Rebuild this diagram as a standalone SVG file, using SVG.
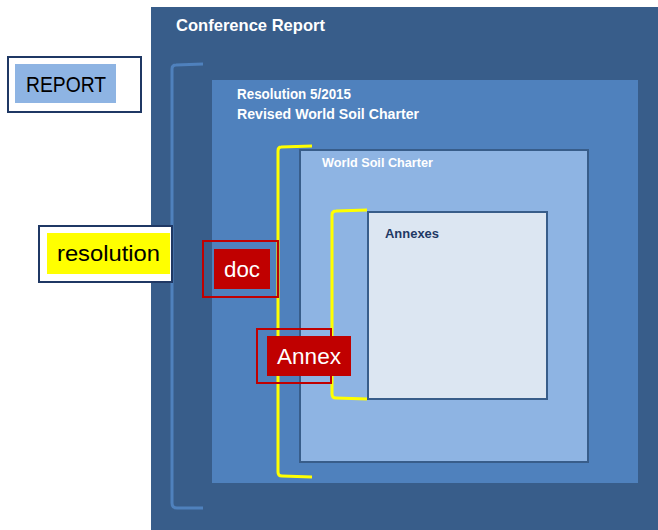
<svg xmlns="http://www.w3.org/2000/svg" width="658" height="530" viewBox="0 0 658 530">
<style>
.t{font-family:"Liberation Sans",Arial,sans-serif;font-weight:bold;fill:#ffffff}
.lbl{font-family:"Liberation Sans",Arial,sans-serif;font-size:22px}
.yb{fill:none;stroke:#FFFF00;stroke-width:3;stroke-linejoin:round}
.navy{fill:#ffffff;stroke:#1F3864;stroke-width:2}
.redo{fill:none;stroke:#C00000;stroke-width:2}
.redf{fill:#C00000}
</style>
<rect width="658" height="530" fill="#ffffff"/>
<g id="conference-report">
<rect x="151" y="7" width="507" height="523" fill="#385D8A"/>
<text class="t" x="176" y="31" font-size="17" textLength="149" lengthAdjust="spacingAndGlyphs">Conference Report</text>
</g>
<g id="resolution-box">
<rect x="212" y="80" width="426" height="403" fill="#4F81BD"/>
<text class="t" x="237" y="99" font-size="14.5" textLength="114" lengthAdjust="spacingAndGlyphs">Resolution 5/2015</text>
<text class="t" x="237" y="119" font-size="14.5" textLength="182" lengthAdjust="spacingAndGlyphs">Revised World Soil Charter</text>
</g>
<g id="world-soil-charter">
<rect x="300" y="150" width="288" height="312" fill="#8EB4E3" stroke="#385D8A" stroke-width="2"/>
<text class="t" x="322" y="167" font-size="12.5" textLength="111" lengthAdjust="spacingAndGlyphs">World Soil Charter</text>
</g>
<g id="annexes">
<rect x="368" y="212" width="179" height="187" fill="#DCE6F2" stroke="#385D8A" stroke-width="2"/>
<text class="t" x="385" y="238" font-size="12.5" style="fill:#1F3864" textLength="54" lengthAdjust="spacingAndGlyphs">Annexes</text>
</g>
<g id="connectors">
<path d="M203,64 L176,65 Q172,65 172,69 L172,503 Q172,508 177,508 L203,508" fill="none" stroke="#4F81BD" stroke-width="3"/>
<path class="yb" d="M312,146 L281,147 Q278,147 278,151 L278,472 Q278,476 282,476 L312,477"/>
<path class="yb" d="M367,210 L336,211 Q332,211 332,215 L332,394 Q332,398 336,398 L367,399"/>
</g>
<g id="report-label">
<rect class="navy" x="8" y="57" width="133" height="55"/>
<rect x="15" y="64" width="101" height="39" fill="#8EB4E3"/>
<text class="lbl" x="26" y="92" fill="#000000" textLength="80" lengthAdjust="spacingAndGlyphs">REPORT</text>
</g>
<g id="resolution-label">
<rect class="navy" x="39" y="226" width="133" height="56"/>
<rect x="47" y="233" width="123" height="41" fill="#FFFF00"/>
<text class="lbl" x="57" y="261" fill="#000000" textLength="103" lengthAdjust="spacingAndGlyphs">resolution</text>
</g>
<g id="doc-label">
<rect class="redo" x="203" y="241" width="75" height="56"/>
<rect class="redf" x="214" y="249" width="56" height="40"/>
<text class="lbl" x="224" y="277" fill="#ffffff" textLength="36" lengthAdjust="spacingAndGlyphs">doc</text>
</g>
<g id="annex-label">
<rect class="redo" x="257" y="329" width="74" height="54"/>
<rect class="redf" x="267" y="336" width="84" height="40"/>
<text class="lbl" x="277" y="364" fill="#ffffff" textLength="64" lengthAdjust="spacingAndGlyphs">Annex</text>
</g>
</svg>
